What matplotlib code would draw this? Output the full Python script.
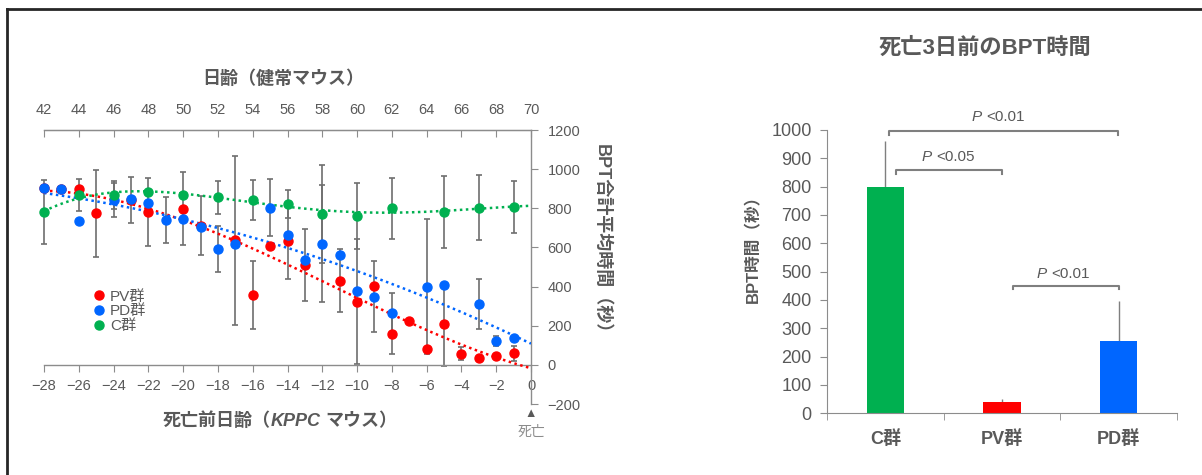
import numpy as np
import matplotlib
matplotlib.use('Agg')
import matplotlib.pyplot as plt
from matplotlib.lines import Line2D
from matplotlib.transforms import IdentityTransform

plt.rcParams['font.family'] = ['Liberation Sans', 'Noto Sans CJK JP']

# --- left chart data (days before death) ---
days_pv = [-28, -27, -26, -25, -23, -22, -20, -19, -17, -16, -15, -14,
           -13, -11, -10, -9, -8, -7, -6, -5, -4, -3, -2, -1]
pv = [905, 900, 900, 775, 844, 780, 798, 712, 636, 356, 607, 632,
      511, 431, 323, 405, 159, 224, 80, 207, 58, 34, 43, 60]
pv_err = [0, 0, 0, 222, 118, 175, 187, 150, 430, 175, 0, 193,
          183, 162, 320, 0, 105, 0, 0, 212, 31, 0, 0, 38]

days_pd = [-28, -27, -26, -24, -23, -22, -21, -20, -19, -18, -17, -15,
           -14, -13, -12, -11, -10, -9, -8, -6, -5, -3, -2, -1]
pd_vals = [902, 900, 737, 842, 847, 827, 742, 744, 705, 590, 617, 803,
           662, 537, 620, 562, 379, 349, 265, 398, 410, 311, 121, 138]
pd_err = [0, 0, 0, 87, 0, 0, 118, 0, 0, 117, 0, 145,
          0, 0, 301, 0, 0, 180, 100, 345, 0, 128, 26, 0]

days_c = [-28, -26, -24, -22, -20, -18, -16, -14, -12, -10, -8, -5, -3, -1]
c_vals = [780, 868, 868, 885, 868, 856, 844, 822, 769, 762, 800, 781, 802, 807]
c_err = [165, 80, 70, 0, 0, 85, 102, 70, 251, 169, 155, 185, 166, 132]

# --- right chart data ---
groups = ['C群', 'PV群', 'PD群']
bpt = [800, 40, 255]
bpt_err = [160, 10, 140]

RED = '#FF0000'
BLUE = '#0066FF'
GREEN = '#00B050'
GRAY = '#595959'
LINE = '#8c8c8c'

W, H = 1202, 475
fig = plt.figure(figsize=(W / 100, H / 100), dpi=100)


def fx(px):
    return px / W


def fy(py):
    return 1 - py / H


def rich(x, y, parts, size, ha='center'):
    # parts: (text, style kwargs, gap after in px); x, y in image pixels (y from top)
    r = fig.canvas.get_renderer()
    items = []
    for s, kw, gap in parts:
        t = fig.text(0, 0, s, fontsize=size, color=GRAY, va='baseline',
                     transform=IdentityTransform(), **kw)
        items.append((t, gap))
    widths = [t.get_window_extent(r).width + g for t, g in items]
    total = sum(widths)
    x0 = x - total / 2 if ha == 'center' else x
    for (t, g), w in zip(items, widths):
        t.set_position((x0, H - y))
        x0 += w


# ---------------- left chart ----------------
ax1 = fig.add_axes([fx(44), fy(404), fx(531) - fx(44), fy(130) - fy(404)])

# name, days, values, errors, colour, trendline order
series = [
    ('PV群', days_pv, pv, pv_err, RED, 3),
    ('PD群', days_pd, pd_vals, pd_err, BLUE, 2),
    ('C群', days_c, c_vals, c_err, GREEN, 4),
]

for name, d, v, e, col, order in series:
    d = np.array(d)
    v = np.array(v)
    e = np.array(e, float)
    m = e > 0
    ax1.errorbar(d[m], v[m], yerr=e[m], fmt='none', ecolor='#6e6e6e',
                 elinewidth=1.2, capsize=2.5, capthick=1.2, zorder=2, clip_on=False)

xs = np.linspace(-28, 0, 300)
for name, d, v, e, col, order in series:
    p = np.polyfit(d, v, order)
    ax1.plot(xs, np.polyval(p, xs), color=col, ls=(0, (1, 1.4)), lw=1.8, zorder=3)

for name, d, v, e, col, order in series:
    ax1.plot(d, v, 'o', color=col, ms=6.5, mec=col, zorder=4, clip_on=False)

ax1.set_xlim(-28, 0)
ax1.set_ylim(-200, 1200)
ax1.spines['left'].set_visible(False)
ax1.spines['bottom'].set_position(('data', 0))
for s in ['top', 'right', 'bottom']:
    ax1.spines[s].set_color(LINE)
    ax1.spines[s].set_linewidth(1)
ax1.yaxis.tick_right()
ax1.set_yticks(range(-200, 1201, 200))
ax1.tick_params(axis='y', direction='out', length=5, color=LINE,
                labelcolor=GRAY, labelsize=10.5, pad=7)
ax1.set_xticks(range(-28, 1, 2))
ax1.xaxis.set_ticks_position('bottom')
ax1.tick_params(axis='x', direction='out', length=5, color=LINE,
                labelcolor=GRAY, labelsize=10.5, pad=5)

secax = ax1.secondary_xaxis('top', functions=(lambda x: x + 70, lambda x: x - 70))
secax.set_xticks(range(42, 71, 2))
secax.tick_params(direction='in', length=5, color=LINE, labelcolor=GRAY,
                  labelsize=10.5, pad=9)
secax.spines['top'].set_color(LINE)

handles = [Line2D([], [], ls='none', marker='o', ms=6.5, color=col)
           for _, _, _, _, col, _ in series]
ax1.legend(handles, [s[0] for s in series], loc='upper left',
           bbox_to_anchor=(0.085, 0.445), frameon=False, fontsize=11,
           labelcolor=GRAY, handlelength=0.8, handletextpad=0.3,
           labelspacing=0.05, borderpad=0)

fig.text(fx(283), fy(79), '日齢（健常マウス）', ha='center', va='center',
         fontsize=13, fontweight='bold', color=GRAY)
fig.text(fx(602), fy(243), 'BPT合計平均時間（秒）', ha='center', va='center',
         rotation=-90, fontsize=13, fontweight='bold', color=GRAY)
fig.text(fx(531), fy(414), '▲', ha='center', va='center', fontsize=9, color=GRAY)
fig.text(fx(531), fy(432), '死亡', ha='center', va='center', fontsize=10, color='#8c8c8c')

# ---------------- right chart ----------------
ax2 = fig.add_axes([fx(827), fy(413.3), fx(1177) - fx(827), fy(130) - fy(413.3)])
xpos = np.arange(len(groups))
ax2.bar(xpos, bpt, width=0.32, color=[GREEN, RED, BLUE], zorder=2)
ax2.errorbar(xpos, bpt, yerr=[[0] * len(bpt), bpt_err], fmt='none',
             ecolor='#7f7f7f', elinewidth=1, capsize=0, zorder=1)
ax2.set_xlim(-0.5, 2.5)
ax2.set_ylim(0, 1000)
ax2.spines['top'].set_visible(False)
ax2.spines['right'].set_visible(False)
for s in ['left', 'bottom']:
    ax2.spines[s].set_color(LINE)
ax2.set_yticks(range(0, 1001, 100))
ax2.tick_params(axis='y', direction='out', length=5, color=LINE,
                labelcolor=GRAY, labelsize=13, pad=6)
ax2.set_xticks(xpos)
ax2.set_xticklabels(groups, fontweight='bold')
ax2.set_xticks([-0.5, 0.5, 1.5, 2.5], minor=True)
ax2.tick_params(axis='x', which='major', length=0, labelcolor=GRAY,
                labelsize=13, pad=12)
ax2.tick_params(axis='x', which='minor', direction='out', length=5, color=LINE)
fig.text(fx(753), fy(245), 'BPT時間（秒）', ha='center', va='center', rotation=90,
         fontsize=12, fontweight='bold', color=GRAY)

brackets = [(0.034, 1.99, 995, 984), (0.091, 1.0, 858, 845), (1.094, 2.0, 451, 438)]
for x1, x2, y, y0 in brackets:
    ax2.plot([x1, x1, x2, x2], [y0, y, y, y0], color='#7f7f7f', lw=1.5,
             clip_on=False, zorder=3)

fig.text(fx(985), fy(48), '死亡3日前のBPT時間', ha='center', va='center',
         fontsize=16, fontweight='bold', color=GRAY)

# figure border (top and left only)
fig.add_artist(Line2D([fx(7), 1], [fy(9), fy(9)], color='#262626', lw=2))
fig.add_artist(Line2D([fx(7), fx(7)], [fy(9), 0], color='#262626', lw=2))

fig.canvas.draw()

# texts with mixed styles
rich(280, 426, [('死亡前日齢（', dict(fontweight='bold'), 0),
                ('KPPC', dict(fontweight='bold', style='italic'), 5),
                ('マウス）', dict(fontweight='bold'), 0)], 13)

p_labels = [(0.966, 1033, '<0.01'), (0.537, 891, '<0.05'), (1.523, 477, '<0.01')]
for xd, yd, txt in p_labels:
    px, py = ax2.transData.transform((xd, yd))
    rich(px, H - py, [('P', dict(style='italic'), 4), (txt, {}, 0)], 11)

fig.savefig('out.png', dpi=100)
